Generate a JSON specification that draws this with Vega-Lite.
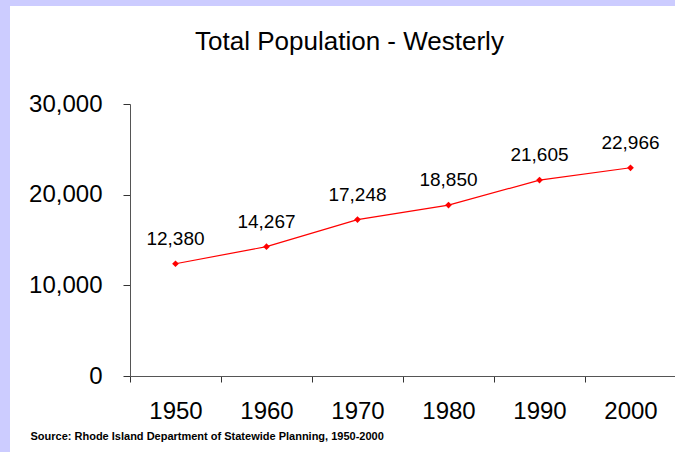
{
  "$schema": "https://vega.github.io/schema/vega-lite/v6.json",
  "autosize": "none",
  "width": 665,
  "height": 446,
  "padding": {"left": 10, "top": 6, "right": 0, "bottom": 0},
  "background": "#ccccff",
  "config": {
    "view": {"fill": "white", "stroke": null},
    "font": "Liberation Sans"
  },
  "title": {
    "text": "Total Population - Westerly",
    "fontSize": 26,
    "fontWeight": "normal",
    "color": "black",
    "anchor": "middle",
    "offset": -49,
    "dx": 7
  },
  "data": {
    "values": [
      {"year": "1950", "population": 12380},
      {"year": "1960", "population": 14267},
      {"year": "1970", "population": 17248},
      {"year": "1980", "population": 18850},
      {"year": "1990", "population": 21605},
      {"year": "2000", "population": 22966}
    ]
  },
  "encoding": {
    "x": {
      "field": "year",
      "type": "ordinal",
      "scale": {"range": [120, 666], "paddingInner": 0, "paddingOuter": 0},
      "axis": {
        "orient": "bottom",
        "offset": -76,
        "labelAngle": 0,
        "labelFontSize": 24,
        "labelColor": "black",
        "labelPadding": 17,
        "tickBand": "extent",
        "tickSize": 6,
        "tickColor": "#333",
        "domainColor": "#555",
        "title": "Source: Rhode Island Department of Statewide Planning, 1950-2000",
        "titleFontSize": 11,
        "titleFontWeight": "bold",
        "titleColor": "black",
        "titleAlign": "left",
        "titleAnchor": "start",
        "titleBaseline": "alphabetic",
        "titleX": 20,
        "titleY": 63
      }
    },
    "y": {
      "field": "population",
      "type": "quantitative",
      "scale": {"domain": [0, 30000], "range": [370, 98], "nice": false, "zero": true},
      "axis": {
        "offset": -120,
        "values": [0, 10000, 20000, 30000],
        "format": ",d",
        "grid": false,
        "labelFontSize": 24,
        "labelColor": "black",
        "labelPadding": 21,
        "tickSize": 7,
        "tickColor": "#333",
        "domainColor": "#555",
        "title": null
      }
    }
  },
  "layer": [
    {"mark": {"type": "line", "color": "#ff0000", "strokeWidth": 1.2}},
    {"mark": {"type": "point", "shape": "diamond", "filled": true, "color": "#ff0000", "size": 45, "opacity": 1}},
    {
      "mark": {"type": "text", "fontSize": 19, "dy": -25, "color": "black", "baseline": "middle"},
      "encoding": {"text": {"field": "population", "type": "quantitative", "format": ",d"}}
    }
  ]
}
